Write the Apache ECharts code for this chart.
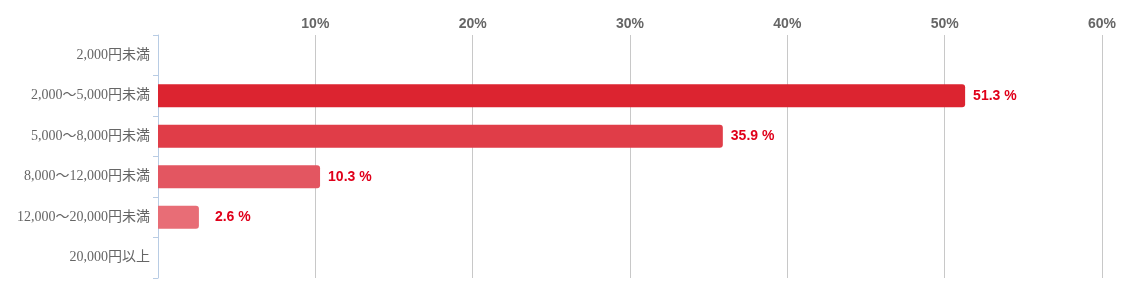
<!DOCTYPE html>
<html><head><meta charset="utf-8">
<script src="https://cdn.jsdelivr.net/npm/echarts@6/dist/echarts.min.js"></script>
<style>html,body{margin:0;padding:0;background:#fff}#c{width:1124px;height:293px}</style>
</head><body><div id="c"></div>
<script>
const categories = ['2,000円未満','2,000〜5,000円未満','5,000〜8,000円未満','8,000〜12,000円未満','12,000〜20,000円未満','20,000円以上'];
const values = [null, 51.3, 35.9, 10.3, 2.6, null];
const barColors = ['#dc2430','#dc2430','#e03d48','#e35661','#e86d76','#e86d76'];
const labelDistances = [8, 8, 8, 8, 16, 8];
const tickValues = [10, 20, 30, 40, 50, 60];

const chart = echarts.init(document.getElementById('c'));
chart.setOption({
  animation: false,
  grid: { left: 158, right: 22, top: 35, bottom: 15, containLabel: false },
  xAxis: {
    type: 'value', position: 'top', min: 0, max: 60, interval: 10,
    axisLine: { show: false }, axisTick: { show: false },
    splitLine: { show: true, lineStyle: { color: '#c8c8c8', width: 1 } },
    axisLabel: {
      color: '#666', fontWeight: 'bold', fontSize: 14, fontFamily: 'Liberation Sans, Arial, sans-serif', margin: 4,
      formatter: v => tickValues.includes(v) ? v + '%' : ''
    }
  },
  yAxis: {
    type: 'category', inverse: true, data: categories,
    axisLine: { show: true, lineStyle: { color: '#b8cce4', width: 1 } },
    axisTick: { show: true, length: 5, lineStyle: { color: '#b8cce4' } },
    axisLabel: { color: '#666', fontSize: 14, fontFamily: 'Liberation Serif, "Noto Sans CJK JP", serif', margin: 8 },
    splitLine: { show: false }
  },
  series: [{
    type: 'bar', barWidth: 23,
    data: values.map((v, i) => ({
      value: v,
      itemStyle: { color: barColors[i], borderRadius: [0, 3, 3, 0] },
      label: { distance: labelDistances[i] }
    })),
    label: {
      show: true, position: 'right', color: '#e0001a', fontWeight: 'bold', fontSize: 14,
      fontFamily: 'Liberation Sans, Arial, sans-serif',
      formatter: p => p.value == null ? '' : p.value.toFixed(1) + ' %'
    }
  }]
});
</script></body></html>
